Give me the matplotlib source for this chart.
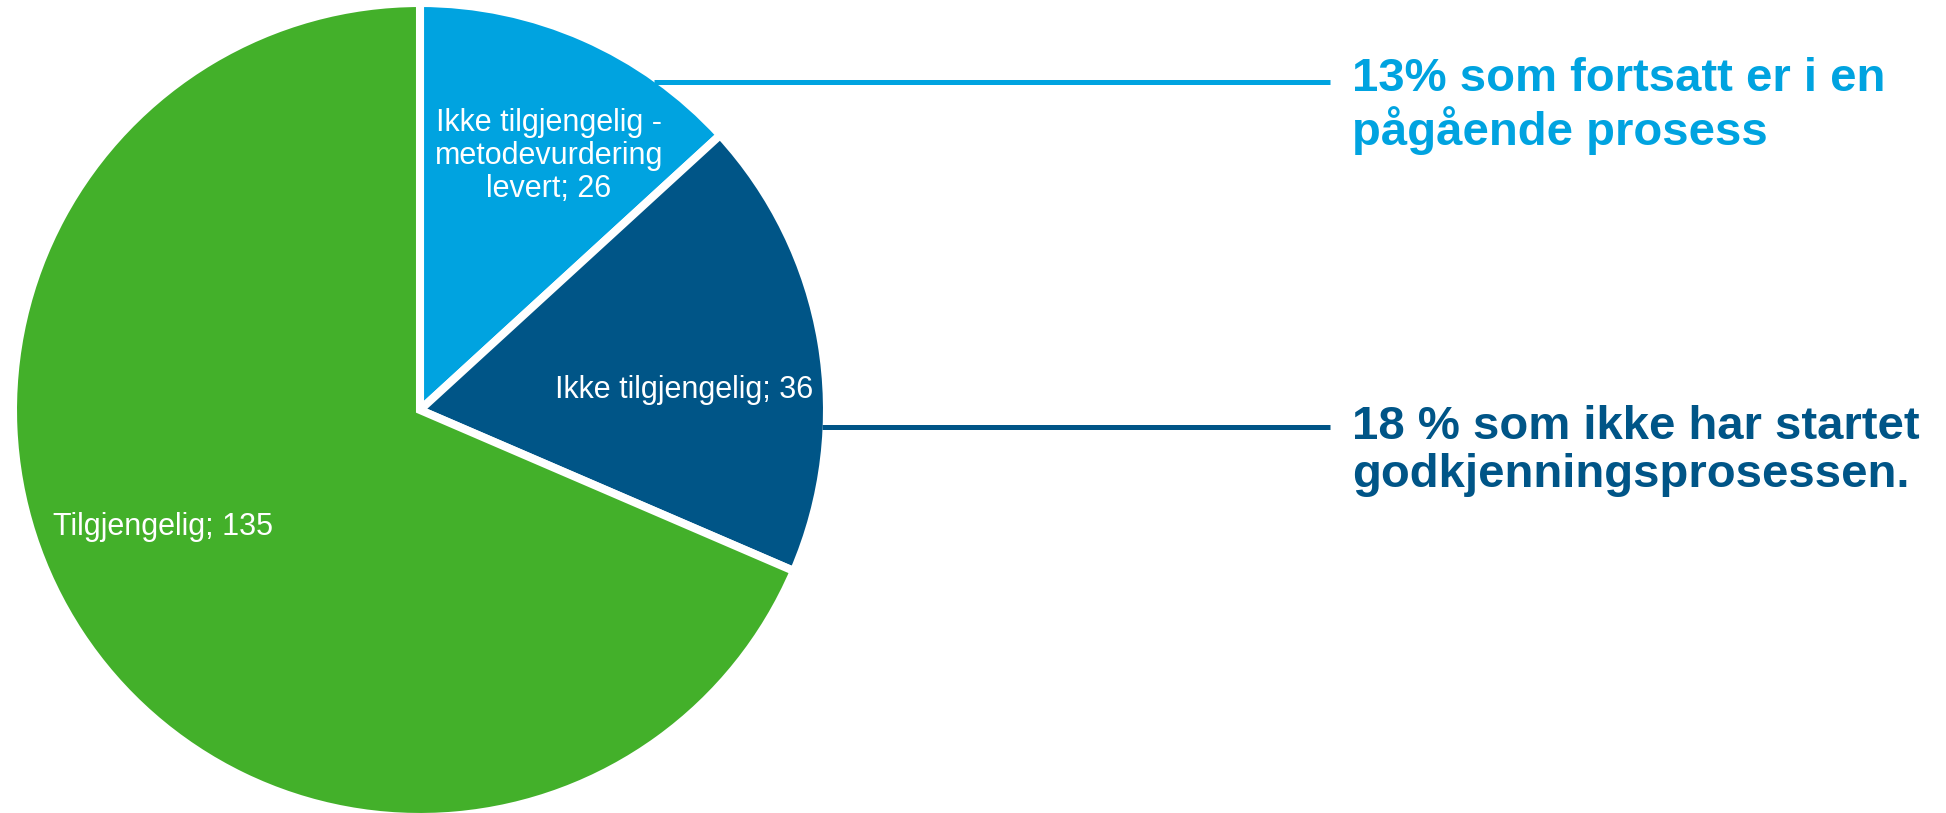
import numpy as np
import matplotlib
matplotlib.use("Agg")
import matplotlib.pyplot as plt

# ---- data ----
categories = ["Ikke tilgjengelig -\nmetodevurdering\nlevert", "Ikke tilgjengelig", "Tilgjengelig"]
values = [26, 36, 135]
colors = ["#00A3E0", "#005587", "#43B02A"]
callouts = ["13% som fortsatt er i en\npågående prosess",
            "18 % som ikke har startet\ngodkjenningsprosessen."]

W, H = 1946, 813
fig = plt.figure(figsize=(W / 100, H / 100), dpi=100)
ax = fig.add_axes([0, 0, 1, 1])

cx, cy, r = 420, 410, 404  # pixel coords (y from top)
def Y(y):
    return H - y

wedges, _ = ax.pie(values, colors=colors, startangle=90, counterclock=False,
                   center=(cx, Y(cy)), radius=r + 3,
                   wedgeprops=dict(edgecolor="white", linewidth=5.8, joinstyle="miter"))
for w in wedges:
    w.set_zorder(3)

font = ["Liberation Sans", "DejaVu Sans"]

# slice labels (baseline of last line)
label_pos = [(549, 197), (684, 398), (163, 535)]
for cat, v, (x, y) in zip(categories, values, label_pos):
    ax.text(x, Y(y), f"{cat}; {v}", ha="center", va="baseline", color="white",
            fontsize=22, family=font, linespacing=1.13, multialignment="center", zorder=5)

# leader lines + callouts
line_y = [82, 427]
x_end = 1330
for i, ly in enumerate(line_y):
    dy = cy - ly
    x_start = cx + np.sqrt(r ** 2 - dy ** 2) - 2
    ax.plot([x_start, x_end], [Y(ly), Y(ly)], color=colors[i], lw=3.6,
            solid_capstyle="butt", zorder=4)

text_base = [145, 487]
for i, (t, ty) in enumerate(zip(callouts, text_base)):
    ax.text(1352, Y(ty), t, ha="left", va="baseline", color=colors[i],
            fontsize=34, fontweight="bold", family=font, linespacing=1.12, zorder=5)

ax.set_xlim(0, W)
ax.set_ylim(0, H)
ax.set_aspect("equal")
ax.axis("off")
fig.savefig("out.png", dpi=100, facecolor="white")
